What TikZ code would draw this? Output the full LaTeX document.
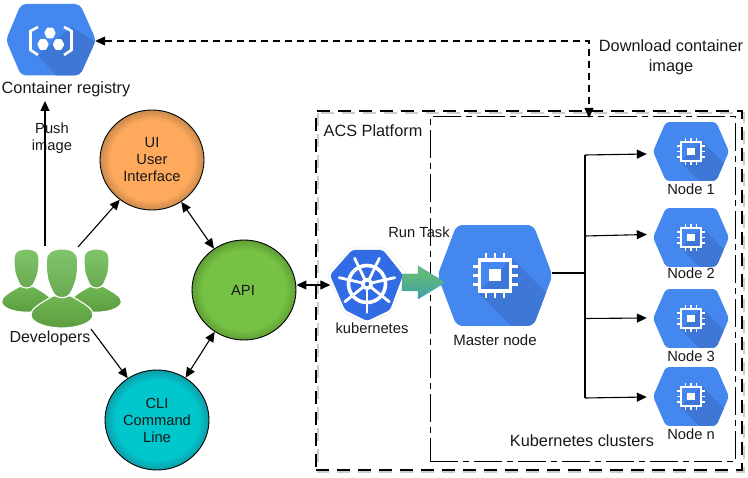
\documentclass[tikz,border=0pt]{standalone}
\usepackage{fontspec}
\setmainfont{Liberation Sans}
\usetikzlibrary{arrows.meta,shapes.geometric}
\definecolor{gblue}{HTML}{4487EE}
\definecolor{gblued}{HTML}{3F77D6}
\definecolor{kblue}{HTML}{326CE5}
\definecolor{orA}{HTML}{FFA95C}
\definecolor{orB}{HTML}{C98A4C}
\definecolor{grA}{HTML}{76C244}
\definecolor{grB}{HTML}{5F9E35}
\definecolor{teA}{HTML}{00C7CC}
\definecolor{teB}{HTML}{0E9CA6}
\definecolor{shA}{HTML}{70B754}
\definecolor{shB}{HTML}{5C9C40}
\definecolor{hdA}{HTML}{80C56B}
\definecolor{hdB}{HTML}{69A84F}
\definecolor{arA}{HTML}{6CC06A}
\definecolor{arB}{HTML}{40A0AC}
\pgfdeclareradialshading{orangeball}{\pgfpointorigin}{color(0bp)=(orA); color(20bp)=(orA); color(25bp)=(orB); color(100bp)=(orB)}
\pgfdeclareradialshading{greenball}{\pgfpointorigin}{color(0bp)=(grA); color(20bp)=(grA); color(25bp)=(grB); color(100bp)=(grB)}
\pgfdeclareradialshading{tealball}{\pgfpointorigin}{color(0bp)=(teA); color(20bp)=(teA); color(25bp)=(teB); color(100bp)=(teB)}
\tikzset{
  x=1pt,y=-1pt,
  every node/.style={font=\fontsize{14.7}{17}\selectfont,align=center,inner sep=0pt,text=black!90},
  big/.style={font=\fontsize{16.3}{20}\selectfont},
  ball/.style={ellipse,draw=black,line width=.9pt,minimum width=104pt,minimum height=100pt},
  link/.style={line width=1.1pt,-{Triangle[length=10pt,width=9pt]}},
  dlink/.style={line width=1.1pt,{Triangle[length=10pt,width=9pt]}-{Triangle[length=10pt,width=9pt]}},
  plain/.style={line width=1.1pt},
  dl/.style={line width=1.1pt,dash pattern=on 7pt off 5pt,{Triangle[length=10pt,width=9pt]}-{Triangle[length=10pt,width=9pt]}},
}
% hexagon with chip icon: name, cx, cy, half width, half height, icon scale
\newcommand{\hexchip}[6]{%
  \node[minimum width=#4*2pt,minimum height=#5*2pt] (#1) at (#2,#3) {};
  \begin{scope}[shift={(#2,#3)}]
    \begin{scope}
      \clip[rounded corners=#5*0.12pt] (-#4-1,0) -- (-#4*.68,-#5) -- (#4*.68,-#5) -- (#4+1,0) -- (#4*.68,#5) -- (-#4*.68,#5) -- cycle;
      \fill[gblue] (-#4-2,-#5) rectangle (#4+2,#5);
      \fill[gblued] (#6*17,-#6*17) -- (#6*17+60,-#6*17+60) -- (-#6*17+60,#6*17+60) -- (-#6*17,#6*17) -- cycle;
    \end{scope}
    \begin{scope}[scale=#6]
      \draw[white,line width=#6*3.4pt] (-15.5,-15.5) rectangle (15.5,15.5);
      \fill[white] (-6,-6) rectangle (6,6);
      \foreach \p in {-9,0,9}{
        \fill[white] (\p-1.2,-22.5) rectangle (\p+1.2,-15);
        \fill[white] (\p-1.2,15) rectangle (\p+1.2,22.5);
        \fill[white] (-22.5,\p-1.2) rectangle (-15,\p+1.2);
        \fill[white] (15,\p-1.2) rectangle (22.5,\p+1.2);
      }
    \end{scope}
  \end{scope}}
% one developer figure
\newcommand{\person}[4]{%
  \begin{scope}[shift={(#1,#2)},xscale=#3,yscale=#4]
    \path[draw=white,line width=1.1pt,top color=shA,bottom color=shB]
      (-31,66) .. controls (-31,60) and (-25,56) .. (-9,47) -- (9,47) .. controls (25,56) and (31,60) .. (31,66)
      .. controls (31,74) and (15,79) .. (0,79) .. controls (-15,79) and (-31,74) .. (-31,66) -- cycle;
    \path[draw=white,line width=1.1pt,top color=hdA,bottom color=hdB]
      (0,0) .. controls (9,0) and (15.5,3) .. (15.5,11) .. controls (16,20) and (15,26) .. (14,31)
      .. controls (12,37) and (10,42) .. (8,45) .. controls (5,50) and (-5,50) .. (-8,45)
      .. controls (-10,42) and (-12,37) .. (-14,31) .. controls (-15,26) and (-16,20) .. (-15.5,11) .. controls (-15.5,3) and (-9,0) .. (0,0) -- cycle;
  \end{scope}}
\begin{document}
\begin{tikzpicture}
\useasboundingbox (0,0) rectangle (748,478);
% frames
\draw[black!20,line width=2.4pt,dash pattern=on 13pt off 8pt] (318,113) rectangle (744,472);
\node[minimum width=426pt,minimum height=359pt,draw=black,line width=2.6pt,dash pattern=on 13pt off 8pt] (acs) at (529,290.5) {};
\node[minimum width=305pt,minimum height=345pt,draw=black,line width=1pt,dash pattern=on 28pt off 5pt on 6pt off 5pt] (kc) at (582.5,289.5) {};
\node[big] (acslabel) at (373,131) {ACS Platform};
\node[big] (kclabel) at (582,441) {Kubernetes clusters};
% container registry
\node[minimum width=88pt,minimum height=71pt] (reg) at (51,40) {};
\begin{scope}
  \clip[rounded corners=5pt] (6,40) -- (21,4) -- (80,4) -- (96,40) -- (80,75.5) -- (21,75.5) -- cycle;
  \fill[gblue] (0,0) rectangle (100,80);
  \fill[gblued] (72,27) -- (100,45) -- (100,80) -- (60,80) -- (38,55) -- cycle;
\end{scope}
\draw[white,line width=2.6pt] (38,27) -- (30.5,31) -- (30.5,50) -- (38,55);
\draw[white,line width=2.6pt] (64,27) -- (71.5,31) -- (71.5,50) -- (64,55);
\foreach \hx/\hy in {50/33,43/44.5,58.5/44.5}
  \fill[white,rounded corners=.8pt] (\hx-5.8,\hy) -- (\hx-2.9,\hy-5.4) -- (\hx+2.9,\hy-5.4) -- (\hx+5.8,\hy) -- (\hx+2.9,\hy+5.4) -- (\hx-2.9,\hy+5.4) -- cycle;
\node[big] (reglabel) at (66,89) {Container registry};
% balls
\node[ball,shading=orangeball] (ui) at (152,160) {};
\node (uit) at (152,160) {UI\\User\\Interface};
\node[ball,shading=greenball] (api) at (244,290) {};
\node (apit) at (243,290) {API};
\node[ball,shading=tealball] (cli) at (157,420) {};
\node (clit) at (157,420) {CLI\\Command\\Line};
% developers
\node[minimum width=120pt,minimum height=80pt] (dev) at (61.5,288.5) {};
\person{26.5}{249}{.8}{.8}
\person{96.5}{249}{.8}{.8}
\person{62}{249}{1}{1}
\node[font=\fontsize{16}{20}\selectfont] (devlabel) at (50,338) {Developers};
\node (pushlabel) at (52,138.5) {Push\\image};
% kubernetes
\fill[white,draw=black!8,line width=.5pt,rounded corners=3pt] (327,274) -- (351,247) -- (384,247) -- (407,274) -- (392,312) -- (367,324) -- (343,312) -- cycle;
\node[minimum width=73pt,minimum height=71pt] (kube) at (367,285) {};
\fill[kblue,rounded corners=3pt] (330,275) -- (352,250) -- (383,250) -- (403,275) -- (390,310) -- (367,321) -- (345,310) -- cycle;
\draw[white,line width=3.6pt] (367,284) circle (18.5);
\foreach \a in {90,141.4,192.9,244.3,295.7,347.1,38.6}{
  \draw[white,line width=2.8pt,line cap=round] (367,284) -- ++(\a:28.5);
}
\fill[white] (367,284) circle (6);
\fill[kblue] (367,284) circle (2.2);
\node (kubelabel) at (372,328) {kubernetes};
% master & nodes
\hexchip{master}{495}{275.5}{56.5}{50.5}{1}
\node[font=\fontsize{15}{18}\selectfont] (masterlabel) at (495,340) {Master node};
\hexchip{n1}{691}{151.5}{37}{29.5}{.62}
\hexchip{n2}{691}{237.5}{37}{29.5}{.62}
\hexchip{n3}{691}{318.5}{37}{29.5}{.62}
\hexchip{n4}{691}{396.5}{37}{29.5}{.62}
\node (n1l) at (691,189) {Node 1};
\node (n2l) at (691,273) {Node 2};
\node (n3l) at (691,356) {Node 3};
\node (n4l) at (691,434) {Node n};
% run task arrow
\path[draw=arB,line width=.4pt,top color=arA,bottom color=arB]
  (402,274) -- (418,274) -- (418,266) -- (445,282.5) -- (418,299) -- (418,291) -- (402,291) -- cycle;
\node (runtask) at (419,232) {Run Task};
% connectors
\coordinate (pushstart) at (45,246);
\coordinate (pushend) at (45,101);
\draw[link] (pushstart) -- (pushend);
\coordinate (devui) at (78,247);
\draw[link] (devui) -- (ui.231);
\coordinate (devcli) at (91,329);
\draw[link] (devcli) -- (cli.125);
\draw[dlink] (ui.-55) -- (api.126);
\draw[dlink] (api.235) -- (cli.56);
\draw[dlink] (api.east |- 0,285) -- (kube.west |- 0,285);
\coordinate (bus) at (585,273);
\draw[plain] (master.east |- bus) -- (bus);
\coordinate (bt) at (585,155);
\coordinate (bb) at (585,398);
\coordinate (b2) at (585,236);
\coordinate (b3) at (585,318.5);
\draw[plain] (bt) -- (bb);
\draw[link] (bt) -- ([xshift=-7pt,yshift=-2.5pt]n1.west);
\draw[link] (b2) -- ([xshift=-7pt,yshift=3pt]n2.west);
\draw[link] (b3) -- ([xshift=-7pt,yshift=.5pt]n3.west);
\draw[link] (bb) -- ([xshift=-7pt,yshift=-.5pt]n4.west);
% download
\coordinate (corner) at (589,41);
\draw[dl] (reg.east |- corner) -- (corner) -- (589,118);
\node[big] (dl) at (671,57) {Download container\\image};
\end{tikzpicture}
\end{document}
